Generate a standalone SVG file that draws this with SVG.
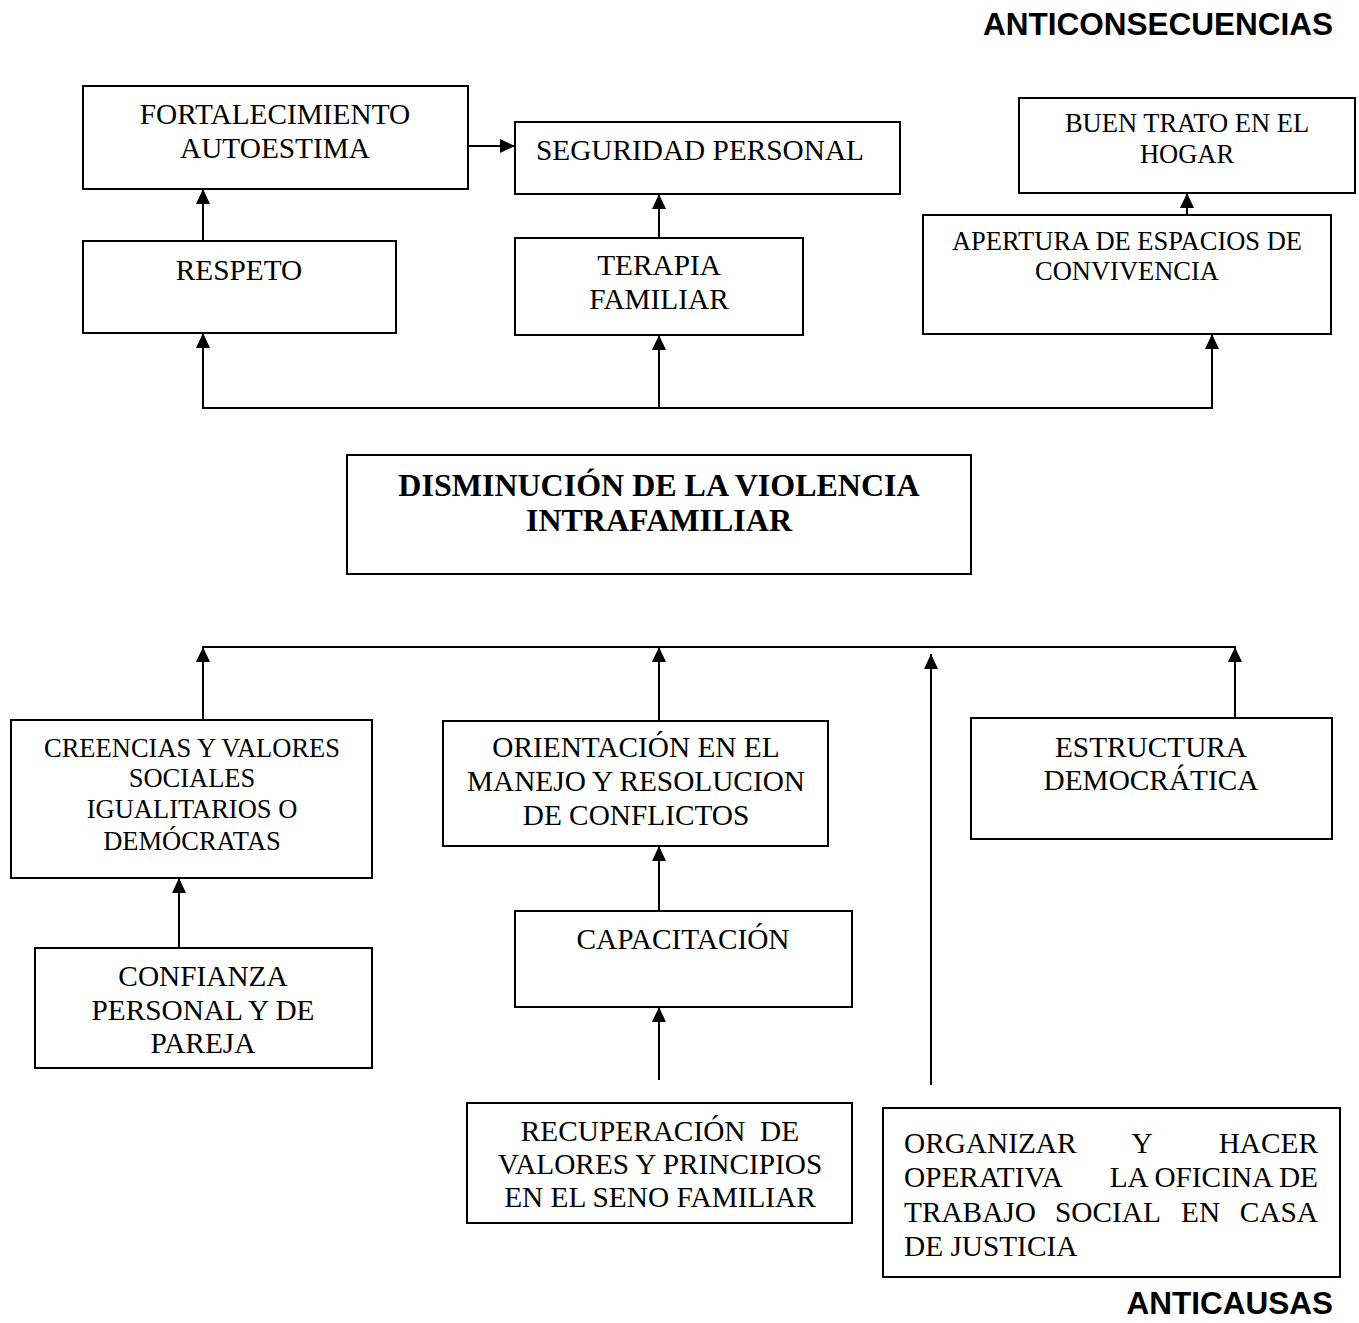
<svg xmlns="http://www.w3.org/2000/svg" width="1359" height="1323" viewBox="0 0 1359 1323">
<style>
  .box { fill: #ffffff; stroke: #000000; stroke-width: 2; }
  .t { font-family: "Liberation Serif", "Times New Roman", serif; font-size: 29.3px; fill: #000000; text-anchor: middle; }
  .ts { font-size: 26.5px; }
  .tl { text-anchor: start; }
  .te { text-anchor: end; }
  .title { font-family: "Liberation Serif", "Times New Roman", serif; font-size: 32px; font-weight: bold; fill: #000000; text-anchor: middle; }
  .head { font-family: "Liberation Sans", Arial, sans-serif; font-size: 31.5px; font-weight: bold; fill: #000000; text-anchor: end; }
  .c { stroke: #000000; stroke-width: 2; fill: none; }
  .a { marker-end: url(#arrow); }
</style>
<defs>
  <marker id="arrow" markerUnits="userSpaceOnUse" markerWidth="15" markerHeight="14" refX="15" refY="7" orient="auto">
    <path d="M0,0 L15,7 L0,14 Z" fill="#000000"/>
  </marker>
</defs>
<rect width="1359" height="1323" fill="#ffffff"/>

<text class="head" x="1333" y="35">ANTICONSECUENCIAS</text>
<text class="head" x="1333" y="1314">ANTICAUSAS</text>

<g id="connectors">
  <line class="c a" x1="468" y1="146" x2="515" y2="146"/>
  <line class="c a" x1="203" y1="241" x2="203" y2="189"/>
  <line class="c a" x1="659" y1="238" x2="659" y2="194"/>
  <line class="c a" x1="1187" y1="215" x2="1187" y2="193"/>
  <line class="c" x1="202" y1="408" x2="1213" y2="408"/>
  <line class="c a" x1="203" y1="408" x2="203" y2="333"/>
  <line class="c a" x1="659" y1="408" x2="659" y2="335"/>
  <line class="c a" x1="1212" y1="408" x2="1212" y2="334"/>
  <line class="c" x1="202" y1="647" x2="1236" y2="647"/>
  <line class="c a" x1="203" y1="720" x2="203" y2="647"/>
  <line class="c a" x1="659" y1="721" x2="659" y2="647"/>
  <line class="c a" x1="1235" y1="718" x2="1235" y2="647"/>
  <line class="c a" x1="931" y1="1085" x2="931" y2="654"/>
  <line class="c a" x1="179" y1="948" x2="179" y2="878"/>
  <line class="c a" x1="659" y1="911" x2="659" y2="846"/>
  <line class="c a" x1="659" y1="1080" x2="659" y2="1007"/>
</g>

<g id="fortalecimiento">
  <rect class="box" x="83" y="86" width="385" height="103"/>
  <text class="t" x="275" y="124">FORTALECIMIENTO</text>
  <text class="t" x="275" y="158">AUTOESTIMA</text>
</g>
<g id="seguridad">
  <rect class="box" x="515" y="122" width="385" height="72"/>
  <text class="t" x="700" y="160">SEGURIDAD PERSONAL</text>
</g>
<g id="respeto">
  <rect class="box" x="83" y="241" width="313" height="92"/>
  <text class="t" x="239" y="280">RESPETO</text>
</g>
<g id="terapia">
  <rect class="box" x="515" y="238" width="288" height="97"/>
  <text class="t" x="659" y="275">TERAPIA</text>
  <text class="t" x="659" y="309">FAMILIAR</text>
</g>
<g id="buentrato">
  <rect class="box" x="1019" y="98" width="336" height="95"/>
  <text class="t ts" x="1187" y="132">BUEN TRATO EN EL</text>
  <text class="t ts" x="1187" y="163">HOGAR</text>
</g>
<g id="apertura">
  <rect class="box" x="923" y="215" width="408" height="119"/>
  <text class="t ts" x="1127" y="250">APERTURA DE ESPACIOS DE</text>
  <text class="t ts" x="1127" y="280">CONVIVENCIA</text>
</g>
<g id="disminucion">
  <rect class="box" x="347" y="455" width="624" height="119"/>
  <text class="title" x="659" y="496">DISMINUCIÓN DE LA VIOLENCIA</text>
  <text class="title" x="659" y="531">INTRAFAMILIAR</text>
</g>
<g id="creencias">
  <rect class="box" x="11" y="720" width="361" height="158"/>
  <text class="t ts" x="192" y="757">CREENCIAS Y VALORES</text>
  <text class="t ts" x="192" y="787">SOCIALES</text>
  <text class="t ts" x="192" y="818">IGUALITARIOS O</text>
  <text class="t ts" x="192" y="850">DEMÓCRATAS</text>
</g>
<g id="orientacion">
  <rect class="box" x="443" y="721" width="385" height="125"/>
  <text class="t" x="636" y="757">ORIENTACIÓN EN EL</text>
  <text class="t" x="636" y="791">MANEJO Y RESOLUCION</text>
  <text class="t" x="636" y="825">DE CONFLICTOS</text>
</g>
<g id="estructura">
  <rect class="box" x="971" y="718" width="361" height="121"/>
  <text class="t" x="1151" y="757">ESTRUCTURA</text>
  <text class="t" x="1151" y="790">DEMOCRÁTICA</text>
</g>
<g id="confianza">
  <rect class="box" x="35" y="948" width="337" height="120"/>
  <text class="t" x="203" y="986">CONFIANZA</text>
  <text class="t" x="203" y="1020">PERSONAL Y DE</text>
  <text class="t" x="203" y="1053">PAREJA</text>
</g>
<g id="capacitacion">
  <rect class="box" x="515" y="911" width="337" height="96"/>
  <text class="t" x="683" y="949">CAPACITACIÓN</text>
</g>
<g id="recuperacion">
  <rect class="box" x="467" y="1103" width="385" height="120"/>
  <text class="t" x="660" y="1141" xml:space="preserve">RECUPERACIÓN  DE</text>
  <text class="t" x="660" y="1174">VALORES Y PRINCIPIOS</text>
  <text class="t" x="660" y="1207">EN EL SENO FAMILIAR</text>
</g>
<g id="organizar">
  <rect class="box" x="883" y="1108" width="457" height="169"/>
  <text class="t tl" x="904" y="1153">ORGANIZAR</text>
  <text class="t" x="1142" y="1153">Y</text>
  <text class="t te" x="1318" y="1153">HACER</text>
  <text class="t tl" x="904" y="1187">OPERATIVA</text>
  <text class="t te" x="1318" y="1187">LA OFICINA DE</text>
  <text class="t tl" x="904" y="1222">TRABAJO</text>
  <text class="t tl" x="1055" y="1222">SOCIAL</text>
  <text class="t tl" x="1181" y="1222">EN</text>
  <text class="t te" x="1318" y="1222">CASA</text>
  <text class="t tl" x="904" y="1256">DE JUSTICIA</text>
</g>
</svg>
